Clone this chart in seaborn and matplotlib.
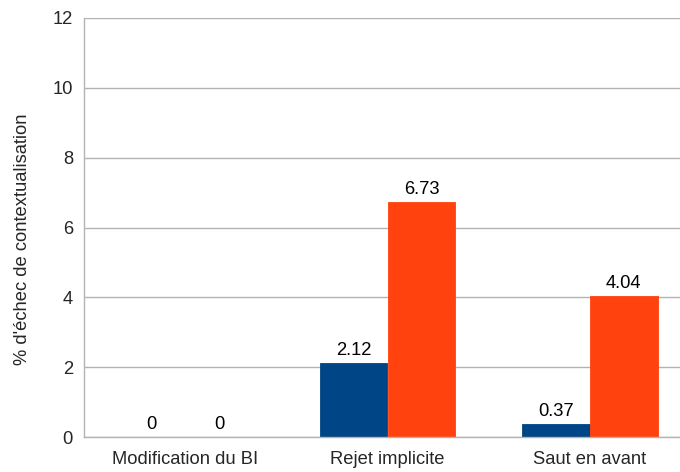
import matplotlib
matplotlib.use("Agg")
import matplotlib.pyplot as plt
import seaborn as sns
import pandas as pd

categories = ["Modification du BI", "Rejet implicite", "Saut en avant"]
series_names = ["Série A", "Série B"]
series_a = [0, 2.12, 0.37]
series_b = [0, 6.73, 4.04]
y_ticks = [0, 2, 4, 6, 8, 10, 12]
y_label = "% d'échec de contextualisation"
colors = ["#004586", "#ff420e"]

df = pd.DataFrame({
    "categorie": categories * 2,
    "serie": [series_names[0]] * 3 + [series_names[1]] * 3,
    "valeur": series_a + series_b,
})

sns.set_style("white")
plt.rcParams["font.family"] = ["Liberation Sans", "DejaVu Sans"]

FS = 13.2
W, H = 680, 472
fig = plt.figure(figsize=(W / 100, H / 100), dpi=100)
ax = fig.add_axes([84 / W, (H - 437) / H, (691 - 84) / W, (437 - 18) / H])

sns.barplot(data=df, x="categorie", y="valeur", hue="serie", order=categories,
            hue_order=series_names, palette=colors, width=0.67, saturation=1,
            legend=False, linewidth=0, ax=ax)

# close the seam between adjacent bars
for patch in ax.patches:
    patch.set_edgecolor(patch.get_facecolor())
    patch.set_linewidth(0.6)

for container in ax.containers:
    ax.bar_label(container, labels=[f"{v:g}" for v in container.datavalues],
                 padding=3, fontsize=FS, color="#000000")

ax.set_ylim(0, 12)
ax.set_yticks(y_ticks)
ax.set_xlim(-0.5, 2.5)
ax.yaxis.grid(True, color="#b3b3b3", linewidth=1)
ax.set_axisbelow(True)

ax.set_xticks([-0.5, 0.5, 1.5, 2.5], minor=False)
ax.set_xticklabels([])
ax.set_xticks([0, 1, 2], minor=True)
ax.set_xticklabels(categories, minor=True, fontsize=FS)
ax.tick_params(axis="x", which="minor", length=0, pad=10)
ax.tick_params(axis="x", which="major", length=5, color="#b3b3b3", width=1, direction="out")
ax.tick_params(axis="y", length=5, color="#b3b3b3", width=1, direction="out", labelsize=FS, pad=3)

for side in ["top", "right"]:
    ax.spines[side].set_visible(False)
for side in ["left", "bottom"]:
    ax.spines[side].set_color("#b3b3b3")
    ax.spines[side].set_linewidth(1)

ax.set_xlabel("")
ax.set_ylabel(y_label, fontsize=FS)
ax.yaxis.set_label_coords(-0.088, 0.473)

fig.savefig("out.png", dpi=100)
